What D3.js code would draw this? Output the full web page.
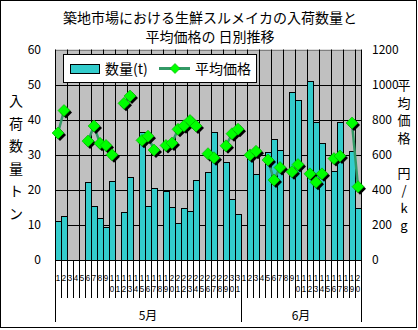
<!DOCTYPE html>
<html>
<head>
<meta charset="utf-8">
<script src="https://cdn.jsdelivr.net/npm/d3@7/dist/d3.min.js"></script>
<style>
  body { margin: 0; background: #fff; }
  svg { display: block; }
  text { font-family: "Noto Sans CJK JP", "Noto Sans", sans-serif; fill: #000; }
  text.day { font-family: "Liberation Sans", sans-serif; font-size: 9.2px; }
</style>
</head>
<body>
<svg id="chart" width="418" height="330"></svg>
<script>
// ---- data: daily arrivals (t) and average price (yen/kg), May 1 – June 20 ----
const titleLines = ["築地市場における生鮮スルメイカの入荷数量と", "平均価格の 日別推移"];
const monthLabels = ["5月", "6月"];
const monthDays = [31, 20];
const dayLabels = [
  1, 2, 3, 4, 5, 6, 7, 8, 9, 10, 11, 12, 13, 14, 15, 16, 17, 18, 19, 20,
  21, 22, 23, 24, 25, 26, 27, 28, 29, 30, 31,
  1, 2, 3, 4, 5, 6, 7, 8, 9, 10, 11, 12, 13, 14, 15, 16, 17, 18, 19, 20
];
const volume = [
  11.0, 12.4, null, null, null, 22.1, 15.3, 11.9, 9.4, 22.5, null, 13.6, 23.6, null, 36.6, 15.3,
  20.4, null, 19.7, 15.0, 10.5, 14.7, 14.0, 22.7, null, 25.2, 36.6, null, 28.0, 17.3, 13.0,
  null, 30.0, 24.4, null, 30.9, 34.4, 31.3, null, 47.8, 45.5, null, 51.0, 39.2, 33.3, null,
  25.4, 39.2, null, 31.1, 14.9
];
const price = [
  724, 852, null, null, null, 678, 764, 665, 653, 600, null, 893, 935, null, 682, 706,
  627, null, 653, 667, 745, 765, 795, 764, null, 606, 583, null, 651, 720, 746,
  null, 599, 620, null, 570, 456, 527, null, 503, 544, null, 491, 443, 491, null,
  578, 593, null, 781, 418
];
const leftTicks = [0, 10, 20, 30, 40, 50, 60];
const rightTicks = [0, 200, 400, 600, 800, 1000, 1200];
const leftTitle = ["入", "荷", "数", "量", "ト", "ン"];
const rightTitle = ["平", "均", "価", "格", "", "円", "/", "k", "g"];
const legendLabels = ["数量(t)", "平均価格"];

// ---- styling ----
const BAR = "#33cccc", LINE = "#339966", MARK = "#00ff00", PLOT_BG = "#c0c0c0";
const L = 55, R = 361, T = 49.5, B = 260;

const svg = d3.select("#chart");
const idx = d3.range(dayLabels.length);
const x = d3.scaleBand().domain(idx).range([L, R]).padding(0);
const yL = d3.scaleLinear().domain([0, 60]).range([B, T]);
const yR = d3.scaleLinear().domain([0, 1200]).range([B, T]);
const px = v => Math.round(v) + 0.5;

// chart frame
svg.append("rect").attr("x", 0.5).attr("y", 0.5).attr("width", 416).attr("height", 327)
  .attr("fill", "#fff").attr("stroke", "#000");

// title
svg.selectAll("text.title").data(titleLines).join("text")
  .attr("class", "title")
  .attr("x", 210).attr("y", (d, i) => 23 + i * 18.5)
  .attr("text-anchor", "middle").attr("font-size", 14)
  .text(d => d);

// plot background
svg.append("rect").attr("x", L).attr("y", T).attr("width", R - L).attr("height", B - T)
  .attr("fill", PLOT_BG);

// horizontal gridlines
svg.append("g").selectAll("line").data(leftTicks.slice(1)).join("line")
  .attr("x1", L).attr("x2", R)
  .attr("y1", d => px(yL(d))).attr("y2", d => px(yL(d)))
  .attr("stroke", d => d === 60 ? "#808080" : "#000").attr("stroke-width", 1);

// vertical gridlines every two days
const vGrid = idx.filter(i => i > 0 && i % 2 === 0);
svg.append("g").selectAll("line").data(vGrid).join("line")
  .attr("x1", d => px(x(d))).attr("x2", d => px(x(d)))
  .attr("y1", T).attr("y2", B)
  .attr("stroke", "#000");

// bars
svg.append("g").selectAll("rect").data(idx.filter(i => volume[i] != null)).join("rect")
  .attr("x", i => px(x(i)))
  .attr("width", Math.round(x.bandwidth()))
  .attr("y", i => px(yL(volume[i])))
  .attr("height", i => px(yL(0)) - px(yL(volume[i])))
  .attr("fill", BAR).attr("stroke", "#000").attr("stroke-width", 1);

// axes lines
svg.append("line").attr("x1", px(L)).attr("x2", px(L)).attr("y1", T).attr("y2", B + 0.5).attr("stroke", "#000");
svg.append("line").attr("x1", px(R)).attr("x2", px(R)).attr("y1", T).attr("y2", B + 0.5).attr("stroke", "#000");
svg.append("line").attr("x1", L).attr("x2", R + 1).attr("y1", px(B)).attr("y2", px(B)).attr("stroke", "#000");

// price line (gaps where market closed)
const line = d3.line()
  .defined(i => price[i] != null)
  .x(i => x(i) + x.bandwidth() / 2)
  .y(i => yR(price[i]));
svg.append("path").datum(idx).attr("d", line)
  .attr("fill", "none").attr("stroke", LINE).attr("stroke-width", 2.5);

// diamond markers with drop shadow
const diamond = "M0,-6L6,0L0,6L-6,0Z";
const pts = idx.filter(i => price[i] != null);
const mk = svg.append("g").selectAll("g").data(pts).join("g")
  .attr("transform", i => `translate(${x(i) + x.bandwidth() / 2},${yR(price[i])})`);
mk.append("path").attr("d", diamond).attr("transform", "translate(2,2)").attr("fill", "#000");
mk.append("path").attr("d", diamond).attr("fill", MARK).attr("stroke", "#00b000").attr("stroke-width", 0.6);

// left axis labels
svg.append("g").selectAll("text").data(leftTicks).join("text")
  .attr("x", 41).attr("y", d => yL(d)).attr("dy", "0.36em")
  .attr("text-anchor", "end").attr("font-size", 12)
  .text(d => d);

// right axis labels
svg.append("g").selectAll("text").data(rightTicks).join("text")
  .attr("x", 372).attr("y", d => yR(d)).attr("dy", "0.36em")
  .attr("font-size", 12)
  .text(d => d);

// axis titles (stacked characters)
svg.append("g").selectAll("text").data(leftTitle).join("text")
  .attr("x", 16).attr("y", (d, i) => 106 + i * 22.5)
  .attr("text-anchor", "middle").attr("font-size", 14)
  .text(d => d);
svg.append("g").selectAll("text").data(rightTitle).join("text")
  .attr("x", 404).attr("y", (d, i) => 90 + i * 17.5)
  .attr("text-anchor", "middle").attr("font-size", 13)
  .text(d => d);

// category axis: day separators and day numbers written one digit per row
svg.append("g").selectAll("line").data(d3.range(dayLabels.length + 1)).join("line")
  .attr("x1", k => px(L + k * x.step())).attr("x2", k => px(L + k * x.step()))
  .attr("y1", B).attr("y2", 298)
  .attr("stroke", "#000");
const dayG = svg.append("g");
idx.forEach(i => {
  const cx = x(i) + x.bandwidth() / 2;
  String(dayLabels[i]).split("").forEach((ch, r) => {
    dayG.append("text").attr("class", "day")
      .attr("x", cx - 2.2).attr("y", 281 + r * 10.5)
      .attr("textLength", 4.4).attr("lengthAdjust", "spacingAndGlyphs")
      .text(ch);
  });
});

// month groups
let start = 0;
const bounds = [0];
monthDays.forEach(n => { start += n; bounds.push(start); });
svg.append("g").selectAll("line").data(bounds).join("line")
  .attr("x1", k => px(L + k * x.step())).attr("x2", k => px(L + k * x.step()))
  .attr("y1", B).attr("y2", 322)
  .attr("stroke", "#000");
svg.append("g").selectAll("text").data(monthLabels).join("text")
  .attr("x", (d, m) => L + (bounds[m] + bounds[m + 1]) / 2 * x.step())
  .attr("y", 320).attr("text-anchor", "middle").attr("font-size", 12)
  .text(d => d);

// legend
const lg = svg.append("g");
lg.append("rect").attr("x", 63.5).attr("y", 54.5).attr("width", 193).attr("height", 28)
  .attr("fill", "#fff").attr("stroke", "#000");
lg.append("rect").attr("x", 70.5).attr("y", 64.5).attr("width", 29).attr("height", 9)
  .attr("fill", BAR).attr("stroke", "#000");
lg.append("text").attr("x", 105).attr("y", 69).attr("dy", "0.36em").attr("font-size", 14).text(legendLabels[0]);
lg.append("line").attr("x1", 159).attr("x2", 190).attr("y1", 68.5).attr("y2", 68.5)
  .attr("stroke", LINE).attr("stroke-width", 3);
lg.append("path").attr("d", "M0,-5L5,0L0,5L-5,0Z").attr("transform", "translate(175,68.5)")
  .attr("fill", MARK).attr("stroke", "#00b000").attr("stroke-width", 0.6);
lg.append("text").attr("x", 195).attr("y", 69).attr("dy", "0.36em").attr("font-size", 14).text(legendLabels[1]);
</script>
</body>
</html>
